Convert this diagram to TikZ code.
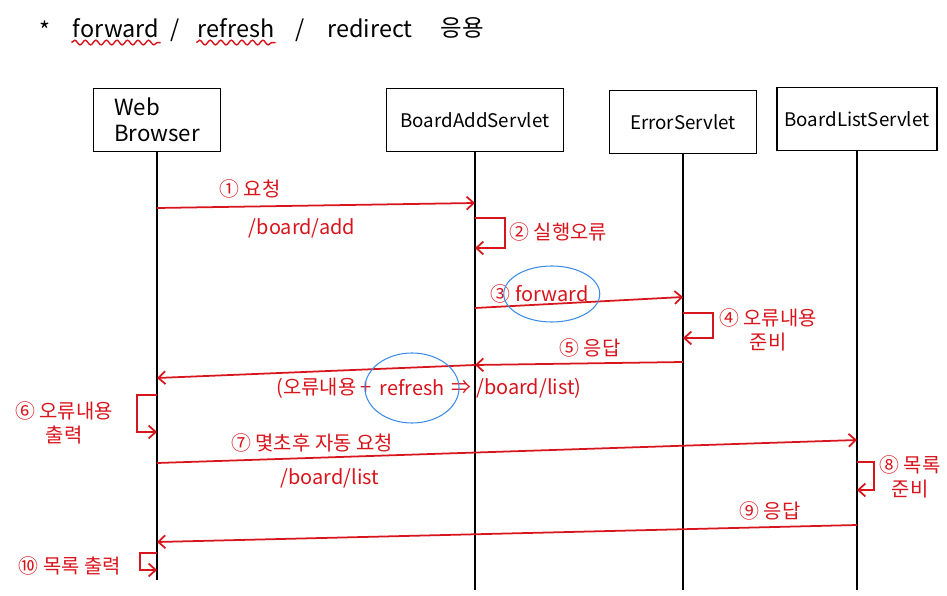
\documentclass[tikz,border=0pt]{standalone}
\usepackage{fontspec}
\setmainfont{Noto Sans CJK KR}
\usetikzlibrary{arrows.meta,positioning,decorations.pathmorphing}
\definecolor{pen}{HTML}{D8141C}
\definecolor{marker}{HTML}{3C8CE6}

\begin{document}
\begin{tikzpicture}[x=0.03cm,y=-0.03cm,
  servlet/.style={draw, line width=1.3pt, minimum height=1.9cm, font=\fontsize{16}{19}\selectfont},
  life/.style={line width=1.3pt},
  msg/.style={pen, line width=1.5pt, -{Straight Barb[length=6pt,width=11pt]}},
  note/.style={text=pen, font=\fontsize{17}{21}\selectfont, inner sep=1pt},
  ttl/.style={font=\fontsize{20}{23}\selectfont, inner sep=1pt},
  hilite/.style={marker, line width=0.9pt},
  wavy/.style={pen, line width=1.2pt, decorate, decoration={snake, amplitude=2pt, segment length=9pt}}]

\useasboundingbox (0,0) rectangle (947,596);

\node[ttl] (star) at (45,30) {*};
\node[ttl] (fwd) at (116,28) {forward};
\node[ttl] (sl1) at (175,30) {/};
\node[ttl] (rfr) at (236,28) {refresh};
\node[ttl] (sl2) at (300,30) {/};
\node[ttl] (rdr) at (370,28) {redirect};
\node[ttl] (use) at (462,28) {응용};
\draw[wavy] ([yshift=-3pt]fwd.south west) -- ([yshift=-3pt]fwd.south east);
\draw[wavy] ([yshift=-3pt]rfr.south west) -- ([yshift=-3pt]rfr.south east);

\node[servlet, minimum width=3.8cm, align=left, font=\fontsize{19}{22}\selectfont] (wb) at (157,120) {Web\\Browser};
\node[servlet, minimum width=5.3cm] (bas) at (475,120) {BoardAddServlet};
\node[servlet, minimum width=4.4cm] (es) at (683,122) {ErrorServlet};
\node[servlet, minimum width=4.8cm] (bls) at (857,119) {BoardListServlet};

\coordinate (wbEnd) at (157,580);
\coordinate (basEnd) at (475,590);
\coordinate (esEnd) at (683,590);
\coordinate (blsEnd) at (857,590);
\draw[life] (wb.south) -- (wbEnd);
\draw[life] (bas.south) -- (basEnd);
\draw[life] (es.south) -- (esEnd);
\draw[life] (bls.south) -- (blsEnd);

\draw[msg] (wb |- 0,208) -- (bas |- 0,203);
\node[note] (l1) at (250,189) {① 요청};
\node[note] (l1b) at (302,228) {/board/add};

\draw[msg] (bas |- 0,218) -- ++(30,0) |- (bas |- 0,248);
\node[note, anchor=west] (l2) at (508,232) {② 실행오류};

\draw[msg] (bas |- 0,308) -- (es |- 0,297);
\node[note] (n3) at (500,294) {③};
\node[note, right=2pt of n3] (l3) {forward};
\draw[hilite] (l3.center) ellipse [x radius=1.44cm, y radius=0.84cm];

\draw[msg] (es |- 0,313) -- ++(30,0) |- (es |- 0,338);
\node[note, align=center] (l4) at (768,330) {④ 오류내용\\준비};

\draw[msg] (es |- 0,362) -- (bas |- 0,365);
\node[note] (l5) at (590,348) {⑤ 응답};
\draw[msg] (bas |- 0,365) -- (wb |- 0,378);
\node[note] (rf) at (412,388) {refresh};
\node[note, left=4pt of rf] (rfl) {(오류내용 +};
\node[note, right=4pt of rf] (rfr2) {⇒ /board/list)};
\draw[hilite] (rf.center) ellipse [x radius=1.41cm, y radius=1.05cm];

\draw[msg] (wb |- 0,395) -- ++(-20,0) |- (wb |- 0,432);
\node[note, align=center] (l6) at (64,423) {⑥ 오류내용\\출력};

\draw[msg] (wb |- 0,463) -- (bls |- 0,440);
\node[note] (l7) at (312,443) {⑦ 몇초후 자동 요청};
\node[note] (l7b) at (330,478) {/board/list};

\draw[msg] (bls |- 0,462) -- ++(17,0) |- (bls |- 0,490);
\node[note, align=center] (l8) at (910,477) {⑧ 목록\\준비};

\draw[msg] (bls |- 0,525) -- (wb |- 0,542);
\node[note] (l9) at (770,511) {⑨ 응답};

\draw[msg] (wb |- 0,553) -- ++(-17,0) |- (wb |- 0,570);
\node[note] (l10) at (70,566) {⑩ 목록 출력};
\end{tikzpicture}
\end{document}
